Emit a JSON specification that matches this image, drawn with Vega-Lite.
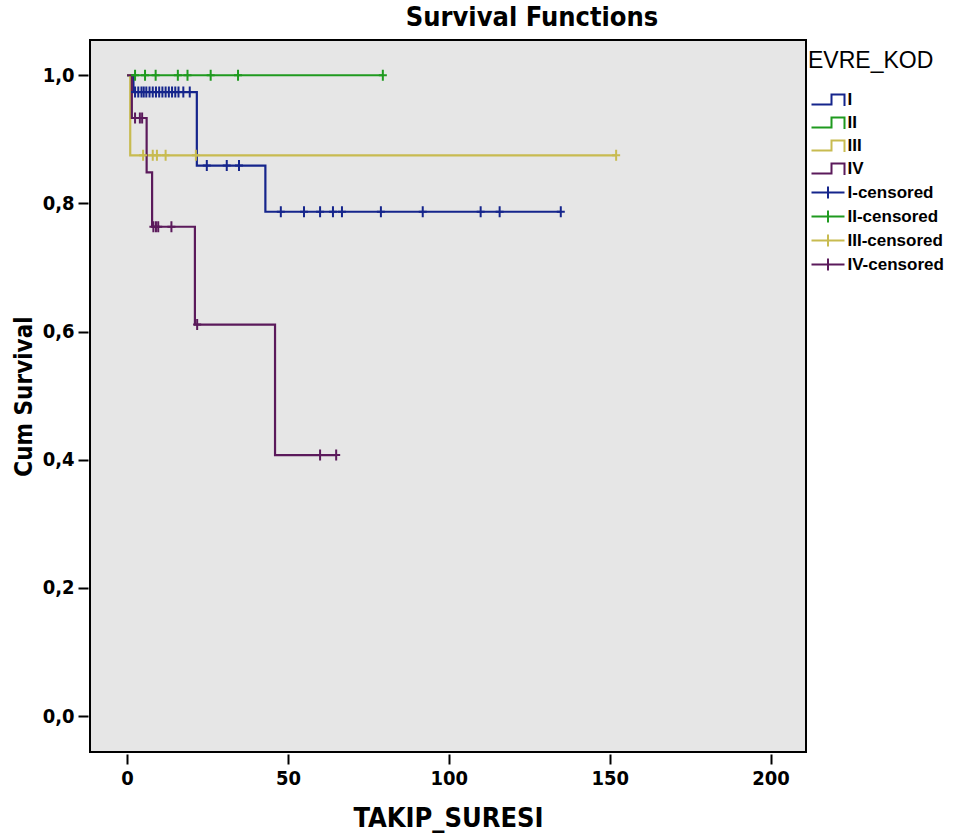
{
  "$schema": "https://vega.github.io/schema/vega-lite/v6.json",
  "width": 716,
  "height": 712,
  "autosize": {"type": "none"},
  "padding": {"left": 90, "top": 40, "right": 151, "bottom": 87},
  "background": "white",
  "title": {
    "text": "Survival Functions",
    "font": "DejaVu Sans Condensed, sans-serif",
    "fontSize": 27,
    "fontWeight": "bold",
    "color": "#000",
    "anchor": "middle",
    "frame": "group",
    "dx": 84,
    "offset": 8
  },
  "datasets": {
    "curves": [
      {"grp": "I", "t": 0, "s": 1},
      {"grp": "I", "t": 2, "s": 0.9737},
      {"grp": "I", "t": 21.7, "s": 0.859},
      {"grp": "I", "t": 43, "s": 0.787},
      {"grp": "I", "t": 134.8, "s": 0.787},
      {"grp": "II", "t": 0, "s": 1},
      {"grp": "II", "t": 79.5, "s": 1},
      {"grp": "III", "t": 0, "s": 1},
      {"grp": "III", "t": 1, "s": 0.875},
      {"grp": "III", "t": 152, "s": 0.875},
      {"grp": "IV", "t": 0, "s": 1},
      {"grp": "IV", "t": 1.5, "s": 0.9333},
      {"grp": "IV", "t": 6.1, "s": 0.8485},
      {"grp": "IV", "t": 7.8, "s": 0.7636},
      {"grp": "IV", "t": 21.1, "s": 0.6109},
      {"grp": "IV", "t": 46, "s": 0.4073},
      {"grp": "IV", "t": 65, "s": 0.4073}
    ],
    "censored": [
      {"grp": "I-censored", "t": 2.5, "s": 0.9737},
      {"grp": "I-censored", "t": 3.5, "s": 0.9737},
      {"grp": "I-censored", "t": 4.5, "s": 0.9737},
      {"grp": "I-censored", "t": 5.2, "s": 0.9737},
      {"grp": "I-censored", "t": 6, "s": 0.9737},
      {"grp": "I-censored", "t": 7, "s": 0.9737},
      {"grp": "I-censored", "t": 8, "s": 0.9737},
      {"grp": "I-censored", "t": 9, "s": 0.9737},
      {"grp": "I-censored", "t": 10, "s": 0.9737},
      {"grp": "I-censored", "t": 11, "s": 0.9737},
      {"grp": "I-censored", "t": 12, "s": 0.9737},
      {"grp": "I-censored", "t": 13, "s": 0.9737},
      {"grp": "I-censored", "t": 14, "s": 0.9737},
      {"grp": "I-censored", "t": 15, "s": 0.9737},
      {"grp": "I-censored", "t": 16, "s": 0.9737},
      {"grp": "I-censored", "t": 17.5, "s": 0.9737},
      {"grp": "I-censored", "t": 19.5, "s": 0.9737},
      {"grp": "I-censored", "t": 24.8, "s": 0.859},
      {"grp": "I-censored", "t": 31, "s": 0.859},
      {"grp": "I-censored", "t": 34.8, "s": 0.859},
      {"grp": "I-censored", "t": 47.8, "s": 0.787},
      {"grp": "I-censored", "t": 55, "s": 0.787},
      {"grp": "I-censored", "t": 60, "s": 0.787},
      {"grp": "I-censored", "t": 64, "s": 0.787},
      {"grp": "I-censored", "t": 66.8, "s": 0.787},
      {"grp": "I-censored", "t": 78.9, "s": 0.787},
      {"grp": "I-censored", "t": 91.9, "s": 0.787},
      {"grp": "I-censored", "t": 109.9, "s": 0.787},
      {"grp": "I-censored", "t": 115.8, "s": 0.787},
      {"grp": "I-censored", "t": 134.8, "s": 0.787},
      {"grp": "II-censored", "t": 2.5, "s": 1},
      {"grp": "II-censored", "t": 5.6, "s": 1},
      {"grp": "II-censored", "t": 8.9, "s": 1},
      {"grp": "II-censored", "t": 15.8, "s": 1},
      {"grp": "II-censored", "t": 18.8, "s": 1},
      {"grp": "II-censored", "t": 26, "s": 1},
      {"grp": "II-censored", "t": 34.5, "s": 1},
      {"grp": "II-censored", "t": 79.5, "s": 1},
      {"grp": "III-censored", "t": 5, "s": 0.875},
      {"grp": "III-censored", "t": 8, "s": 0.875},
      {"grp": "III-censored", "t": 9.3, "s": 0.875},
      {"grp": "III-censored", "t": 12, "s": 0.875},
      {"grp": "III-censored", "t": 21.4, "s": 0.875},
      {"grp": "III-censored", "t": 152, "s": 0.875},
      {"grp": "IV-censored", "t": 2.5, "s": 0.9333},
      {"grp": "IV-censored", "t": 4, "s": 0.9333},
      {"grp": "IV-censored", "t": 4.7, "s": 0.9333},
      {"grp": "IV-censored", "t": 8.2, "s": 0.7636},
      {"grp": "IV-censored", "t": 9, "s": 0.7636},
      {"grp": "IV-censored", "t": 9.7, "s": 0.7636},
      {"grp": "IV-censored", "t": 13.8, "s": 0.7636},
      {"grp": "IV-censored", "t": 21.8, "s": 0.6109},
      {"grp": "IV-censored", "t": 60, "s": 0.4073},
      {"grp": "IV-censored", "t": 65, "s": 0.4073}
    ]
  },
  "encoding": {
    "x": {
      "field": "t",
      "type": "quantitative",
      "title": "TAKIP_SURESI",
      "scale": {"domain": [-11.5, 211], "nice": false, "zero": false},
      "axis": {"values": [0, 50, 100, 150, 200]}
    },
    "y": {
      "field": "s",
      "type": "quantitative",
      "title": "Cum Survival",
      "scale": {"domain": [-0.056, 1.055], "nice": false, "zero": false},
      "axis": {
        "values": [0, 0.2, 0.4, 0.6, 0.8, 1.0],
        "labelExpr": "replace(format(datum.value, '.1f'), '.', ',')",
        "titleFontSize": 24,
        "titlePadding": 6
      }
    },
    "color": {
      "field": "grp",
      "type": "nominal",
      "title": "EVRE_KOD",
      "scale": {
        "domain": ["I", "II", "III", "IV", "I-censored", "II-censored", "III-censored", "IV-censored"],
        "range": ["#15258c", "#1f9a1f", "#c8bb50", "#5b1a5b", "#15258c", "#1f9a1f", "#c8bb50", "#5b1a5b"]
      },
      "legend": {
        "orient": "none",
        "legendX": 718,
        "legendY": 10,
        "padding": 0,
        "symbolSize": 100,
        "symbolOffset": 11.5,
        "labelOffset": 11,
        "symbolStrokeWidth": 2,
        "symbolFillColor": "transparent",
        "rowPadding": 3,
        "titlePadding": 18,
        "titleFont": "Liberation Sans, Arial, sans-serif",
        "titleFontSize": 23,
        "titleFontWeight": "normal",
        "titleColor": "#000",
        "labelFont": "Liberation Sans, Arial, sans-serif",
        "labelFontSize": 17,
        "labelFontWeight": "bold",
        "labelColor": "#000",
        "encode": {
          "symbols": {
            "update": {
              "shape": {"signal": "indexof(datum.value, 'censored') >= 0 ? 'M-3.3,0L3.3,0M0,-1.2L0,1.2' : 'M-3.3,1L0.7,1L0.7,-1L3.3,-1L3.3,1.3'"},
              "fill": {"value": "transparent"},
              "strokeWidth": {"value": 2}
            }
          }
        }
      }
    }
  },
  "layer": [
    {
      "data": {"name": "curves"},
      "mark": {"type": "line", "interpolate": "step-after", "strokeWidth": 2.2},
      "encoding": {"detail": {"field": "grp"}}
    },
    {
      "data": {"name": "censored"},
      "mark": {
        "type": "point",
        "shape": "M-0.8,0L0.8,0M0,-1.1L0,1.1",
        "size": 100,
        "filled": false,
        "strokeWidth": 2,
        "opacity": 1
      }
    }
  ],
  "config": {
    "view": {"fill": "#e6e6e6", "stroke": "#000", "strokeWidth": 2},
    "axis": {
      "grid": false,
      "domain": false,
      "ticks": true,
      "tickColor": "#000",
      "tickWidth": 2,
      "tickSize": 10,
      "offset": 2,
      "labelFont": "DejaVu Sans Condensed, sans-serif",
      "labelFontWeight": "bold",
      "labelFontSize": 20,
      "labelColor": "#000",
      "titleFont": "DejaVu Sans Condensed, sans-serif",
      "titleFontWeight": "bold",
      "titleFontSize": 27,
      "titleColor": "#000"
    },
    "axisX": {"labelPadding": 4, "titlePadding": 17},
    "axisY": {"labelPadding": 4}
  }
}
